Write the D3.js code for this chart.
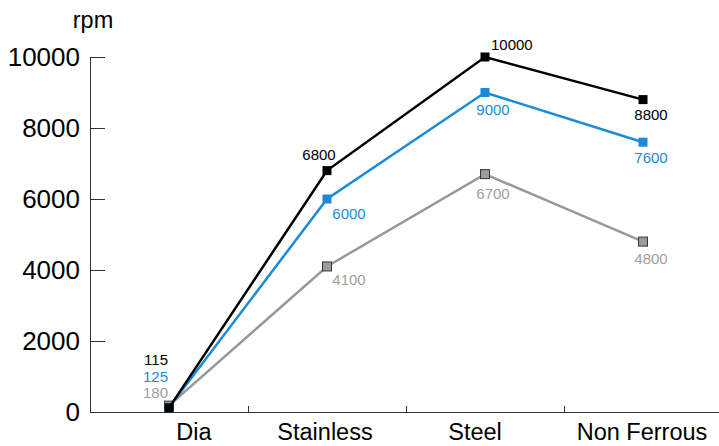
<!DOCTYPE html>
<html>
<head>
<meta charset="utf-8">
<script src="https://cdn.jsdelivr.net/npm/d3@7"></script>
<style>
	body { margin: 0; background: #fff; }
	svg { font-family: "Liberation Sans", Arial, Helvetica, sans-serif; }
</style>
</head>
<body>
<svg id="chart" width="719" height="446"></svg>
<script>

	var categories = ['Dia', 'Stainless', 'Steel', 'Non Ferrous'];

	var blackValues = [115, 6800, 10000, 8800];
	var blueValues = [125, 6000, 9000, 7600];
	var grayValues = [180, 4100, 6700, 4800];

	var yTicks = [0, 2000, 4000, 6000, 8000, 10000];

	var series = [
		{ key: 'gray', values: grayValues, line: '#999999', fill: '#9b9b9b', stroke: '#333', text: '#a0a0a0', width: 2.5 },
		{ key: 'blue', values: blueValues, line: '#1a8bd6', fill: '#1a8bd6', stroke: 'none', text: '#1a8bd6', width: 2.5 },
		{ key: 'black', values: blackValues, line: '#000', fill: '#000', stroke: 'none', text: '#000', width: 2.5 }
	];

	// label placement relative to the marker: [dx, dy, anchor]
	var labelPlace = {
		black: [[-1, -47, 'end'], [-8, -11, 'middle'], [6, -7, 'start'], [8, 20, 'middle']],
		blue: [[-1, -30, 'end'], [22, 20, 'middle'], [8, 22, 'middle'], [8, 21, 'middle']],
		gray: [[-1, -14, 'end'], [22, 19, 'middle'], [8, 25, 'middle'], [8, 22, 'middle']]
	};

	// horizontal nudge of the category labels
	var catShift = [25, -2, -10, -1];

	var svg = d3.select('#chart');

	var x = d3.scaleBand()
		.domain(categories)
		.range([90, 722]);

	var y = d3.scaleLinear()
		.domain([0, 10000])
		.range([412, 57]);

	// y axis
	var yAxis = svg.append('g')
		.attr('transform', 'translate(90,0)')
		.call(d3.axisRight(y).tickValues(yTicks).tickSize(15).tickFormat(d3.format('d')));

	yAxis.select('.domain').attr('stroke', '#333').attr('d', 'M0.5,' + y(10000) + 'V' + y(0));
	yAxis.selectAll('.tick line').attr('stroke', '#333');
	yAxis.selectAll('.tick text')
		.attr('x', -10)
		.attr('text-anchor', 'end')
		.style('font-size', '26px')
		.style('fill', '#000')
		.attr('font-family', null);

	svg.append('text')
		.attr('x', 93)
		.attr('y', 28)
		.attr('text-anchor', 'middle')
		.style('font-size', '23.5px')
		.text('rpm');

	// x axis
	var xAxis = svg.append('g')
		.attr('transform', 'translate(0,412)');

	xAxis.append('line')
		.attr('x1', 90).attr('x2', 719)
		.attr('y1', 0.5).attr('y2', 0.5)
		.attr('stroke', '#333');

	xAxis.selectAll('line.tick')
		.data(categories.slice(1))
		.enter().append('line')
		.attr('class', 'tick')
		.attr('x1', function(d) { return Math.round(x(d)) + 0.5; })
		.attr('x2', function(d) { return Math.round(x(d)) + 0.5; })
		.attr('y1', 0).attr('y2', -6)
		.attr('stroke', '#333');

	xAxis.selectAll('text')
		.data(categories)
		.enter().append('text')
		.attr('x', function(d, i) { return x(d) + x.bandwidth() / 2 + catShift[i]; })
		.attr('y', 28)
		.attr('text-anchor', 'middle')
		.style('font-size', '23.5px')
		.text(function(d) { return d; });

	var cx = function(i) { return x(categories[i]) + x.bandwidth() / 2; };

	var line = d3.line()
		.x(function(d, i) { return cx(i); })
		.y(function(d) { return y(d); });

	var g = svg.selectAll('g.series')
		.data(series)
		.enter().append('g')
		.attr('class', 'series');

	g.append('path')
		.attr('fill', 'none')
		.attr('stroke', function(d) { return d.line; })
		.attr('stroke-width', function(d) { return d.width; })
		.attr('d', function(d) { return line(d.values); });

	g.each(function(s) {
		var size = 9;
		d3.select(this).selectAll('rect')
			.data(s.values)
			.enter().append('rect')
			.attr('x', function(d, i) { return cx(i) - size / 2; })
			.attr('y', function(d) { return y(d) - size / 2; })
			.attr('width', size)
			.attr('height', size)
			.attr('fill', s.fill)
			.attr('stroke', s.stroke)
			.attr('stroke-width', s.stroke == 'none' ? 0 : 1);
	});

	g.each(function(s) {
		d3.select(this).selectAll('text')
			.data(s.values)
			.enter().append('text')
			.attr('x', function(d, i) { return cx(i) + labelPlace[s.key][i][0]; })
			.attr('y', function(d, i) { return (i == 0 ? y(0) : y(d)) + labelPlace[s.key][i][1]; })
			.attr('text-anchor', function(d, i) { return labelPlace[s.key][i][2]; })
			.style('font-size', '15px')
			.style('fill', s.text)
			.text(function(d) { return d; });
	});

</script>
</body>
</html>
